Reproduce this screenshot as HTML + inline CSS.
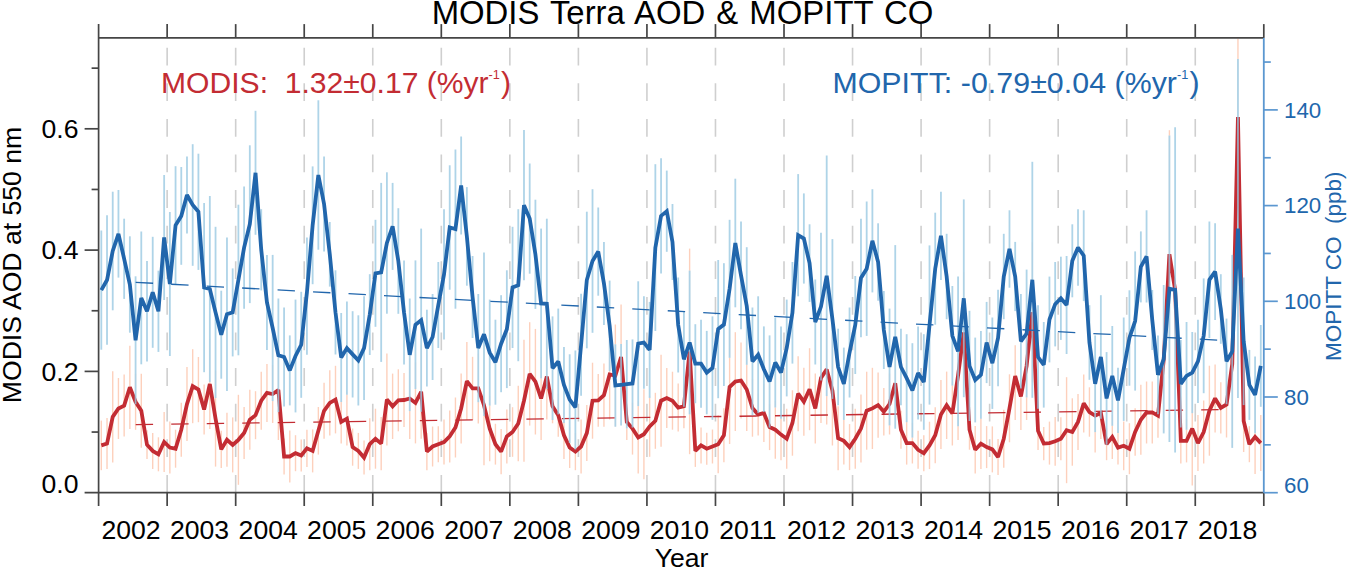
<!DOCTYPE html>
<html><head><meta charset="utf-8"><title>MODIS Terra AOD &amp; MOPITT CO</title>
<style>html,body{margin:0;padding:0;background:#fff;overflow:hidden}body{width:1347px;height:569px;position:relative;font-family:"Liberation Sans",sans-serif}</style></head>
<body>
<svg width="1347" height="569" viewBox="0 0 1347 569" style="position:absolute;left:0;top:0">
<rect width="1347" height="569" fill="#fff"/>
<line x1="167.14" y1="492.7" x2="167.14" y2="45.9" stroke="#cfcfcf" stroke-width="1.6" stroke-dasharray="17.8 17.8"/>
<line x1="235.68" y1="492.7" x2="235.68" y2="45.9" stroke="#cfcfcf" stroke-width="1.6" stroke-dasharray="17.8 17.8"/>
<line x1="304.22" y1="492.7" x2="304.22" y2="45.9" stroke="#cfcfcf" stroke-width="1.6" stroke-dasharray="17.8 17.8"/>
<line x1="372.76" y1="492.7" x2="372.76" y2="45.9" stroke="#cfcfcf" stroke-width="1.6" stroke-dasharray="17.8 17.8"/>
<line x1="441.31" y1="492.7" x2="441.31" y2="45.9" stroke="#cfcfcf" stroke-width="1.6" stroke-dasharray="17.8 17.8"/>
<line x1="509.85" y1="492.7" x2="509.85" y2="45.9" stroke="#cfcfcf" stroke-width="1.6" stroke-dasharray="17.8 17.8"/>
<line x1="578.39" y1="492.7" x2="578.39" y2="45.9" stroke="#cfcfcf" stroke-width="1.6" stroke-dasharray="17.8 17.8"/>
<line x1="646.93" y1="492.7" x2="646.93" y2="45.9" stroke="#cfcfcf" stroke-width="1.6" stroke-dasharray="17.8 17.8"/>
<line x1="715.47" y1="492.7" x2="715.47" y2="45.9" stroke="#cfcfcf" stroke-width="1.6" stroke-dasharray="17.8 17.8"/>
<line x1="784.01" y1="492.7" x2="784.01" y2="45.9" stroke="#cfcfcf" stroke-width="1.6" stroke-dasharray="17.8 17.8"/>
<line x1="852.55" y1="492.7" x2="852.55" y2="45.9" stroke="#cfcfcf" stroke-width="1.6" stroke-dasharray="17.8 17.8"/>
<line x1="921.09" y1="492.7" x2="921.09" y2="45.9" stroke="#cfcfcf" stroke-width="1.6" stroke-dasharray="17.8 17.8"/>
<line x1="989.64" y1="492.7" x2="989.64" y2="45.9" stroke="#cfcfcf" stroke-width="1.6" stroke-dasharray="17.8 17.8"/>
<line x1="1058.18" y1="492.7" x2="1058.18" y2="45.9" stroke="#cfcfcf" stroke-width="1.6" stroke-dasharray="17.8 17.8"/>
<line x1="1126.72" y1="492.7" x2="1126.72" y2="45.9" stroke="#cfcfcf" stroke-width="1.6" stroke-dasharray="17.8 17.8"/>
<line x1="1195.26" y1="492.7" x2="1195.26" y2="45.9" stroke="#cfcfcf" stroke-width="1.6" stroke-dasharray="17.8 17.8"/>
<g stroke="#fdd0bc" stroke-width="1.4" opacity="1">
<line x1="101.31" y1="420.6" x2="101.31" y2="470.2"/>
<line x1="107.02" y1="418.1" x2="107.02" y2="469.1"/>
<line x1="112.73" y1="371.2" x2="112.73" y2="462.4"/>
<line x1="118.44" y1="378.0" x2="118.44" y2="439.0"/>
<line x1="124.15" y1="374.6" x2="124.15" y2="436.6"/>
<line x1="129.86" y1="345.7" x2="129.86" y2="428.9"/>
<line x1="135.58" y1="373.8" x2="135.58" y2="429.8"/>
<line x1="141.29" y1="373.8" x2="141.29" y2="447.8"/>
<line x1="147.00" y1="430.3" x2="147.00" y2="459.1"/>
<line x1="152.71" y1="432.9" x2="152.71" y2="468.9"/>
<line x1="158.42" y1="437.3" x2="158.42" y2="471.3"/>
<line x1="164.14" y1="412.0" x2="164.14" y2="472.0"/>
<line x1="169.85" y1="421.6" x2="169.85" y2="473.6"/>
<line x1="175.56" y1="429.7" x2="175.56" y2="467.7"/>
<line x1="181.27" y1="402.7" x2="181.27" y2="456.7"/>
<line x1="186.98" y1="367.1" x2="186.98" y2="441.1"/>
<line x1="192.69" y1="349.2" x2="192.69" y2="423.2"/>
<line x1="198.41" y1="357.0" x2="198.41" y2="422.2"/>
<line x1="204.12" y1="384.6" x2="204.12" y2="434.6"/>
<line x1="209.83" y1="339.0" x2="209.83" y2="429.0"/>
<line x1="215.54" y1="370.6" x2="215.54" y2="466.6"/>
<line x1="221.25" y1="430.8" x2="221.25" y2="468.0"/>
<line x1="226.96" y1="412.8" x2="226.96" y2="466.8"/>
<line x1="232.68" y1="417.4" x2="232.68" y2="472.4"/>
<line x1="238.39" y1="394.8" x2="238.39" y2="484.8"/>
<line x1="244.10" y1="407.1" x2="244.10" y2="459.1"/>
<line x1="249.81" y1="389.7" x2="249.81" y2="449.7"/>
<line x1="255.52" y1="391.2" x2="255.52" y2="439.2"/>
<line x1="261.24" y1="371.7" x2="261.24" y2="429.7"/>
<line x1="266.95" y1="363.9" x2="266.95" y2="421.9"/>
<line x1="272.66" y1="365.0" x2="272.66" y2="423.0"/>
<line x1="278.37" y1="340.0" x2="278.37" y2="440.0"/>
<line x1="284.08" y1="438.5" x2="284.08" y2="474.5"/>
<line x1="289.79" y1="430.5" x2="289.79" y2="482.5"/>
<line x1="295.51" y1="435.2" x2="295.51" y2="471.2"/>
<line x1="301.22" y1="439.4" x2="301.22" y2="471.4"/>
<line x1="306.93" y1="429.7" x2="306.93" y2="466.9"/>
<line x1="312.64" y1="429.4" x2="312.64" y2="472.4"/>
<line x1="318.35" y1="407.0" x2="318.35" y2="454.6"/>
<line x1="324.06" y1="382.8" x2="324.06" y2="438.8"/>
<line x1="329.78" y1="370.2" x2="329.78" y2="435.6"/>
<line x1="335.49" y1="365.8" x2="335.49" y2="433.4"/>
<line x1="341.20" y1="400.4" x2="341.20" y2="443.4"/>
<line x1="346.91" y1="391.6" x2="346.91" y2="445.6"/>
<line x1="352.62" y1="428.5" x2="352.62" y2="465.7"/>
<line x1="358.34" y1="432.9" x2="358.34" y2="468.9"/>
<line x1="364.05" y1="440.6" x2="364.05" y2="474.6"/>
<line x1="369.76" y1="418.2" x2="369.76" y2="470.2"/>
<line x1="375.47" y1="408.7" x2="375.47" y2="468.7"/>
<line x1="381.18" y1="417.0" x2="381.18" y2="470.2"/>
<line x1="386.89" y1="353.6" x2="386.89" y2="445.6"/>
<line x1="392.61" y1="373.6" x2="392.61" y2="439.0"/>
<line x1="398.32" y1="369.3" x2="398.32" y2="431.3"/>
<line x1="404.03" y1="373.0" x2="404.03" y2="427.0"/>
<line x1="409.74" y1="358.0" x2="409.74" y2="439.0"/>
<line x1="415.45" y1="362.4" x2="415.45" y2="443.4"/>
<line x1="421.16" y1="344.8" x2="421.16" y2="438.8"/>
<line x1="426.88" y1="433.0" x2="426.88" y2="470.2"/>
<line x1="432.59" y1="426.5" x2="432.59" y2="466.5"/>
<line x1="438.30" y1="426.2" x2="438.30" y2="462.2"/>
<line x1="444.01" y1="419.4" x2="444.01" y2="464.6"/>
<line x1="449.72" y1="410.4" x2="449.72" y2="462.4"/>
<line x1="455.44" y1="397.5" x2="455.44" y2="457.5"/>
<line x1="461.15" y1="373.5" x2="461.15" y2="443.5"/>
<line x1="466.86" y1="342.1" x2="466.86" y2="420.1"/>
<line x1="472.57" y1="356.8" x2="472.57" y2="420.0"/>
<line x1="478.28" y1="353.4" x2="478.28" y2="423.4"/>
<line x1="483.99" y1="345.2" x2="483.99" y2="465.2"/>
<line x1="489.71" y1="395.9" x2="489.71" y2="461.3"/>
<line x1="495.42" y1="423.8" x2="495.42" y2="464.6"/>
<line x1="501.13" y1="429.0" x2="501.13" y2="474.2"/>
<line x1="506.84" y1="409.4" x2="506.84" y2="463.4"/>
<line x1="512.55" y1="407.2" x2="512.55" y2="456.8"/>
<line x1="518.26" y1="385.7" x2="518.26" y2="461.3"/>
<line x1="523.98" y1="339.7" x2="523.98" y2="461.7"/>
<line x1="529.69" y1="322.2" x2="529.69" y2="425.6"/>
<line x1="535.40" y1="328.9" x2="535.40" y2="434.5"/>
<line x1="541.11" y1="356.9" x2="541.11" y2="440.1"/>
<line x1="546.82" y1="333.6" x2="546.82" y2="419.6"/>
<line x1="552.54" y1="389.3" x2="552.54" y2="423.3"/>
<line x1="558.25" y1="393.7" x2="558.25" y2="436.7"/>
<line x1="563.96" y1="411.6" x2="563.96" y2="459.0"/>
<line x1="569.67" y1="427.2" x2="569.67" y2="468.0"/>
<line x1="575.38" y1="433.0" x2="575.38" y2="470.2"/>
<line x1="581.09" y1="419.5" x2="581.09" y2="473.5"/>
<line x1="586.81" y1="405.1" x2="586.81" y2="461.1"/>
<line x1="592.52" y1="362.7" x2="592.52" y2="438.7"/>
<line x1="598.23" y1="373.9" x2="598.23" y2="426.7"/>
<line x1="603.94" y1="363.5" x2="603.94" y2="426.7"/>
<line x1="609.65" y1="329.5" x2="609.65" y2="419.5"/>
<line x1="615.36" y1="324.5" x2="615.36" y2="426.5"/>
<line x1="621.08" y1="304.6" x2="621.08" y2="409.4"/>
<line x1="626.79" y1="403.9" x2="626.79" y2="439.9"/>
<line x1="632.50" y1="402.6" x2="632.50" y2="454.6"/>
<line x1="638.21" y1="401.5" x2="638.21" y2="473.5"/>
<line x1="643.92" y1="389.2" x2="643.92" y2="479.2"/>
<line x1="649.64" y1="396.0" x2="649.64" y2="456.8"/>
<line x1="655.35" y1="392.8" x2="655.35" y2="448.8"/>
<line x1="661.06" y1="354.7" x2="661.06" y2="446.7"/>
<line x1="666.77" y1="368.0" x2="666.77" y2="428.0"/>
<line x1="672.48" y1="371.7" x2="672.48" y2="429.7"/>
<line x1="678.19" y1="383.6" x2="678.19" y2="431.6"/>
<line x1="683.91" y1="384.3" x2="683.91" y2="428.3"/>
<line x1="689.62" y1="248.6" x2="689.62" y2="454.2"/>
<line x1="695.33" y1="434.9" x2="695.33" y2="466.9"/>
<line x1="701.04" y1="427.4" x2="701.04" y2="463.4"/>
<line x1="706.75" y1="432.7" x2="706.75" y2="464.7"/>
<line x1="712.46" y1="429.5" x2="712.46" y2="463.5"/>
<line x1="718.18" y1="415.2" x2="718.18" y2="473.2"/>
<line x1="723.89" y1="408.3" x2="723.89" y2="462.3"/>
<line x1="729.60" y1="330.0" x2="729.60" y2="444.0"/>
<line x1="735.31" y1="332.2" x2="735.31" y2="431.0"/>
<line x1="741.02" y1="342.5" x2="741.02" y2="418.5"/>
<line x1="746.74" y1="347.9" x2="746.74" y2="431.1"/>
<line x1="752.45" y1="379.3" x2="752.45" y2="436.7"/>
<line x1="758.16" y1="393.5" x2="758.16" y2="435.5"/>
<line x1="763.87" y1="384.0" x2="763.87" y2="442.0"/>
<line x1="769.58" y1="404.1" x2="769.58" y2="450.1"/>
<line x1="775.29" y1="400.7" x2="775.29" y2="458.7"/>
<line x1="781.01" y1="409.0" x2="781.01" y2="460.2"/>
<line x1="786.72" y1="408.7" x2="786.72" y2="468.7"/>
<line x1="792.43" y1="390.3" x2="792.43" y2="455.7"/>
<line x1="798.14" y1="356.2" x2="798.14" y2="431.2"/>
<line x1="803.85" y1="367.7" x2="803.85" y2="435.7"/>
<line x1="809.56" y1="348.2" x2="809.56" y2="430.2"/>
<line x1="815.28" y1="373.4" x2="815.28" y2="443.4"/>
<line x1="820.99" y1="333.0" x2="820.99" y2="423.0"/>
<line x1="826.70" y1="314.4" x2="826.70" y2="424.4"/>
<line x1="832.41" y1="335.5" x2="832.41" y2="445.5"/>
<line x1="838.12" y1="406.2" x2="838.12" y2="470.2"/>
<line x1="843.84" y1="417.2" x2="843.84" y2="464.6"/>
<line x1="849.55" y1="424.1" x2="849.55" y2="470.1"/>
<line x1="855.26" y1="408.7" x2="855.26" y2="468.7"/>
<line x1="860.97" y1="394.6" x2="860.97" y2="462.6"/>
<line x1="866.68" y1="371.7" x2="866.68" y2="449.7"/>
<line x1="872.39" y1="367.8" x2="872.39" y2="449.0"/>
<line x1="878.11" y1="372.4" x2="878.11" y2="437.8"/>
<line x1="883.82" y1="388.0" x2="883.82" y2="435.6"/>
<line x1="889.53" y1="373.5" x2="889.53" y2="434.5"/>
<line x1="895.24" y1="339.9" x2="895.24" y2="426.7"/>
<line x1="900.95" y1="410.7" x2="900.95" y2="448.7"/>
<line x1="906.66" y1="421.6" x2="906.66" y2="464.6"/>
<line x1="912.38" y1="422.7" x2="912.38" y2="463.5"/>
<line x1="918.09" y1="430.8" x2="918.09" y2="468.8"/>
<line x1="923.80" y1="435.2" x2="923.80" y2="471.2"/>
<line x1="929.51" y1="421.7" x2="929.51" y2="469.1"/>
<line x1="935.22" y1="407.3" x2="935.22" y2="463.3"/>
<line x1="940.94" y1="380.0" x2="940.94" y2="449.0"/>
<line x1="946.65" y1="371.6" x2="946.65" y2="439.0"/>
<line x1="952.36" y1="381.5" x2="952.36" y2="445.5"/>
<line x1="958.07" y1="311.0" x2="958.07" y2="440.0"/>
<line x1="963.78" y1="272.4" x2="963.78" y2="392.4"/>
<line x1="969.49" y1="409.7" x2="969.49" y2="449.7"/>
<line x1="975.21" y1="426.0" x2="975.21" y2="473.6"/>
<line x1="980.92" y1="418.1" x2="980.92" y2="469.1"/>
<line x1="986.63" y1="426.1" x2="986.63" y2="468.1"/>
<line x1="992.34" y1="426.4" x2="992.34" y2="472.4"/>
<line x1="998.05" y1="439.0" x2="998.05" y2="475.0"/>
<line x1="1003.76" y1="409.7" x2="1003.76" y2="467.7"/>
<line x1="1009.48" y1="374.3" x2="1009.48" y2="442.3"/>
<line x1="1015.19" y1="345.3" x2="1015.19" y2="420.0"/>
<line x1="1020.90" y1="363.0" x2="1020.90" y2="430.0"/>
<line x1="1026.61" y1="312.0" x2="1026.61" y2="420.0"/>
<line x1="1032.32" y1="242.3" x2="1032.32" y2="382.3"/>
<line x1="1038.04" y1="411.5" x2="1038.04" y2="450.1"/>
<line x1="1043.75" y1="427.0" x2="1043.75" y2="460.2"/>
<line x1="1049.46" y1="421.6" x2="1049.46" y2="464.6"/>
<line x1="1055.17" y1="416.9" x2="1055.17" y2="465.7"/>
<line x1="1060.88" y1="417.2" x2="1060.88" y2="460.2"/>
<line x1="1066.59" y1="377.2" x2="1066.59" y2="483.2"/>
<line x1="1072.31" y1="398.3" x2="1072.31" y2="465.7"/>
<line x1="1078.02" y1="393.9" x2="1078.02" y2="449.9"/>
<line x1="1083.73" y1="374.4" x2="1083.73" y2="432.4"/>
<line x1="1089.44" y1="387.3" x2="1089.44" y2="436.7"/>
<line x1="1095.15" y1="378.5" x2="1095.15" y2="452.5"/>
<line x1="1100.86" y1="387.0" x2="1100.86" y2="439.0"/>
<line x1="1106.58" y1="428.2" x2="1106.58" y2="460.2"/>
<line x1="1112.29" y1="414.9" x2="1112.29" y2="458.9"/>
<line x1="1118.00" y1="430.6" x2="1118.00" y2="464.6"/>
<line x1="1123.71" y1="421.4" x2="1123.71" y2="470.2"/>
<line x1="1129.42" y1="423.2" x2="1129.42" y2="474.2"/>
<line x1="1135.14" y1="408.3" x2="1135.14" y2="455.7"/>
<line x1="1140.85" y1="384.7" x2="1140.85" y2="454.7"/>
<line x1="1146.56" y1="381.5" x2="1146.56" y2="443.5"/>
<line x1="1152.27" y1="381.4" x2="1152.27" y2="443.4"/>
<line x1="1157.98" y1="393.7" x2="1157.98" y2="437.7"/>
<line x1="1163.69" y1="288.0" x2="1163.69" y2="432.0"/>
<line x1="1169.41" y1="130.2" x2="1169.41" y2="378.2"/>
<line x1="1175.12" y1="190.0" x2="1175.12" y2="390.0"/>
<line x1="1180.83" y1="418.3" x2="1180.83" y2="463.5"/>
<line x1="1186.54" y1="419.4" x2="1186.54" y2="462.4"/>
<line x1="1192.25" y1="371.6" x2="1192.25" y2="485.6"/>
<line x1="1197.96" y1="415.1" x2="1197.96" y2="471.1"/>
<line x1="1203.68" y1="400.5" x2="1203.68" y2="463.5"/>
<line x1="1209.39" y1="365.7" x2="1209.39" y2="455.7"/>
<line x1="1215.10" y1="364.4" x2="1215.10" y2="432.4"/>
<line x1="1220.81" y1="382.2" x2="1220.81" y2="433.4"/>
<line x1="1226.52" y1="371.5" x2="1226.52" y2="437.5"/>
<line x1="1232.24" y1="281.0" x2="1232.24" y2="447.0"/>
<line x1="1237.95" y1="38.7" x2="1237.95" y2="317.0"/>
<line x1="1243.66" y1="390.0" x2="1243.66" y2="452.0"/>
<line x1="1249.37" y1="426.2" x2="1249.37" y2="462.2"/>
<line x1="1255.08" y1="399.9" x2="1255.08" y2="473.9"/>
<line x1="1260.79" y1="415.1" x2="1260.79" y2="471.1"/>
</g>
<g stroke="#ffffff" stroke-width="2.4" opacity="0.8">
<line x1="101.31" y1="230.5" x2="101.31" y2="349.7"/>
<line x1="107.02" y1="215.2" x2="107.02" y2="344.8"/>
<line x1="112.73" y1="191.7" x2="112.73" y2="310.3"/>
<line x1="118.44" y1="190.0" x2="118.44" y2="277.6"/>
<line x1="124.15" y1="218.7" x2="124.15" y2="298.9"/>
<line x1="129.86" y1="236.3" x2="129.86" y2="332.7"/>
<line x1="135.58" y1="276.3" x2="135.58" y2="404.3"/>
<line x1="141.29" y1="231.5" x2="141.29" y2="364.3"/>
<line x1="147.00" y1="261.0" x2="147.00" y2="361.6"/>
<line x1="152.71" y1="236.8" x2="152.71" y2="347.8"/>
<line x1="158.42" y1="270.7" x2="158.42" y2="351.9"/>
<line x1="164.14" y1="175.0" x2="164.14" y2="300.0"/>
<line x1="169.85" y1="212.0" x2="169.85" y2="356.0"/>
<line x1="175.56" y1="166.2" x2="175.56" y2="284.4"/>
<line x1="181.27" y1="167.0" x2="181.27" y2="264.8"/>
<line x1="186.98" y1="156.5" x2="186.98" y2="233.5"/>
<line x1="192.69" y1="144.2" x2="192.69" y2="265.8"/>
<line x1="198.41" y1="153.7" x2="198.41" y2="269.9"/>
<line x1="204.12" y1="203.0" x2="204.12" y2="372.2"/>
<line x1="209.83" y1="196.0" x2="209.83" y2="382.0"/>
<line x1="215.54" y1="226.8" x2="215.54" y2="398.0"/>
<line x1="221.25" y1="290.7" x2="221.25" y2="378.7"/>
<line x1="226.96" y1="237.4" x2="226.96" y2="391.0"/>
<line x1="232.68" y1="268.4" x2="232.68" y2="356.4"/>
<line x1="238.39" y1="204.7" x2="238.39" y2="355.3"/>
<line x1="244.10" y1="186.4" x2="244.10" y2="308.8"/>
<line x1="249.81" y1="145.3" x2="249.81" y2="303.1"/>
<line x1="255.52" y1="110.8" x2="255.52" y2="234.8"/>
<line x1="261.24" y1="209.2" x2="261.24" y2="290.4"/>
<line x1="266.95" y1="254.9" x2="266.95" y2="349.9"/>
<line x1="272.66" y1="254.9" x2="272.66" y2="401.1"/>
<line x1="278.37" y1="298.5" x2="278.37" y2="412.1"/>
<line x1="284.08" y1="307.5" x2="284.08" y2="406.5"/>
<line x1="289.79" y1="335.4" x2="289.79" y2="405.4"/>
<line x1="295.51" y1="299.6" x2="295.51" y2="412.4"/>
<line x1="301.22" y1="291.8" x2="301.22" y2="397.8"/>
<line x1="306.93" y1="237.4" x2="306.93" y2="354.8"/>
<line x1="312.64" y1="166.4" x2="312.64" y2="284.2"/>
<line x1="318.35" y1="100.3" x2="318.35" y2="249.7"/>
<line x1="324.06" y1="156.5" x2="324.06" y2="251.5"/>
<line x1="329.78" y1="222.0" x2="329.78" y2="286.6"/>
<line x1="335.49" y1="270.3" x2="335.49" y2="354.5"/>
<line x1="341.20" y1="313.0" x2="341.20" y2="402.0"/>
<line x1="346.91" y1="301.4" x2="346.91" y2="394.8"/>
<line x1="352.62" y1="311.2" x2="352.62" y2="397.5"/>
<line x1="358.34" y1="315.3" x2="358.34" y2="405.5"/>
<line x1="364.05" y1="296.3" x2="364.05" y2="399.9"/>
<line x1="369.76" y1="274.2" x2="369.76" y2="355.0"/>
<line x1="375.47" y1="219.8" x2="375.47" y2="326.8"/>
<line x1="381.18" y1="182.9" x2="381.18" y2="361.9"/>
<line x1="386.89" y1="172.3" x2="386.89" y2="313.7"/>
<line x1="392.61" y1="182.9" x2="392.61" y2="269.9"/>
<line x1="398.32" y1="208.2" x2="398.32" y2="313.8"/>
<line x1="404.03" y1="260.4" x2="404.03" y2="364.4"/>
<line x1="409.74" y1="298.5" x2="409.74" y2="411.1"/>
<line x1="415.45" y1="260.4" x2="415.45" y2="389.0"/>
<line x1="421.16" y1="228.6" x2="421.16" y2="411.8"/>
<line x1="426.88" y1="309.7" x2="426.88" y2="386.5"/>
<line x1="432.59" y1="294.0" x2="432.59" y2="380.0"/>
<line x1="438.30" y1="262.0" x2="438.30" y2="348.0"/>
<line x1="444.01" y1="209.2" x2="444.01" y2="339.6"/>
<line x1="449.72" y1="165.3" x2="449.72" y2="289.7"/>
<line x1="455.44" y1="149.5" x2="455.44" y2="308.7"/>
<line x1="461.15" y1="136.5" x2="461.15" y2="234.5"/>
<line x1="466.86" y1="187.1" x2="466.86" y2="285.7"/>
<line x1="472.57" y1="256.0" x2="472.57" y2="338.0"/>
<line x1="478.28" y1="294.0" x2="478.28" y2="402.2"/>
<line x1="483.99" y1="252.5" x2="483.99" y2="416.1"/>
<line x1="489.71" y1="299.6" x2="489.71" y2="405.6"/>
<line x1="495.42" y1="319.7" x2="495.42" y2="404.7"/>
<line x1="501.13" y1="295.2" x2="501.13" y2="392.2"/>
<line x1="506.84" y1="270.3" x2="506.84" y2="388.1"/>
<line x1="512.55" y1="226.8" x2="512.55" y2="348.0"/>
<line x1="518.26" y1="209.2" x2="518.26" y2="361.2"/>
<line x1="523.98" y1="130.1" x2="523.98" y2="280.3"/>
<line x1="529.69" y1="163.5" x2="529.69" y2="273.7"/>
<line x1="535.40" y1="199.7" x2="535.40" y2="308.9"/>
<line x1="541.11" y1="228.6" x2="541.11" y2="378.4"/>
<line x1="546.82" y1="218.7" x2="546.82" y2="389.1"/>
<line x1="552.54" y1="316.4" x2="552.54" y2="420.0"/>
<line x1="558.25" y1="308.6" x2="558.25" y2="414.4"/>
<line x1="563.96" y1="347.0" x2="563.96" y2="423.0"/>
<line x1="569.67" y1="354.3" x2="569.67" y2="443.0"/>
<line x1="575.38" y1="350.5" x2="575.38" y2="449.5"/>
<line x1="581.09" y1="293.8" x2="581.09" y2="395.8"/>
<line x1="586.81" y1="211.7" x2="586.81" y2="348.3"/>
<line x1="592.52" y1="189.2" x2="592.52" y2="332.8"/>
<line x1="598.23" y1="207.5" x2="598.23" y2="295.7"/>
<line x1="603.94" y1="241.9" x2="603.94" y2="324.9"/>
<line x1="609.65" y1="280.6" x2="609.65" y2="371.0"/>
<line x1="615.36" y1="344.3" x2="615.36" y2="426.7"/>
<line x1="621.08" y1="344.0" x2="621.08" y2="425.6"/>
<line x1="626.79" y1="340.0" x2="626.79" y2="428.4"/>
<line x1="632.50" y1="339.4" x2="632.50" y2="427.6"/>
<line x1="638.21" y1="281.3" x2="638.21" y2="406.1"/>
<line x1="643.92" y1="296.3" x2="643.92" y2="388.7"/>
<line x1="649.64" y1="301.9" x2="649.64" y2="397.9"/>
<line x1="655.35" y1="164.2" x2="655.35" y2="331.0"/>
<line x1="661.06" y1="158.3" x2="661.06" y2="273.5"/>
<line x1="666.77" y1="170.6" x2="666.77" y2="251.8"/>
<line x1="672.48" y1="204.0" x2="672.48" y2="280.0"/>
<line x1="678.19" y1="277.5" x2="678.19" y2="372.5"/>
<line x1="683.91" y1="311.9" x2="683.91" y2="406.7"/>
<line x1="689.62" y1="270.6" x2="689.62" y2="414.4"/>
<line x1="695.33" y1="324.2" x2="695.33" y2="403.2"/>
<line x1="701.04" y1="319.7" x2="701.04" y2="407.7"/>
<line x1="706.75" y1="330.9" x2="706.75" y2="414.3"/>
<line x1="712.46" y1="316.4" x2="712.46" y2="419.8"/>
<line x1="718.18" y1="260.0" x2="718.18" y2="398.2"/>
<line x1="723.89" y1="263.2" x2="723.89" y2="386.0"/>
<line x1="729.60" y1="219.8" x2="729.60" y2="357.8"/>
<line x1="735.31" y1="178.7" x2="735.31" y2="307.3"/>
<line x1="741.02" y1="221.5" x2="741.02" y2="329.3"/>
<line x1="746.74" y1="247.2" x2="746.74" y2="364.8"/>
<line x1="752.45" y1="307.5" x2="752.45" y2="415.3"/>
<line x1="758.16" y1="296.3" x2="758.16" y2="413.1"/>
<line x1="763.87" y1="326.4" x2="763.87" y2="412.0"/>
<line x1="769.58" y1="335.4" x2="769.58" y2="427.6"/>
<line x1="775.29" y1="317.5" x2="775.29" y2="407.5"/>
<line x1="781.01" y1="326.4" x2="781.01" y2="418.8"/>
<line x1="786.72" y1="299.6" x2="786.72" y2="396.4"/>
<line x1="792.43" y1="262.0" x2="792.43" y2="363.6"/>
<line x1="798.14" y1="174.1" x2="798.14" y2="296.3"/>
<line x1="803.85" y1="193.4" x2="803.85" y2="283.6"/>
<line x1="809.56" y1="224.3" x2="809.56" y2="301.9"/>
<line x1="815.28" y1="279.5" x2="815.28" y2="364.5"/>
<line x1="820.99" y1="232.8" x2="820.99" y2="380.4"/>
<line x1="826.70" y1="155.5" x2="826.70" y2="396.1"/>
<line x1="832.41" y1="239.1" x2="832.41" y2="398.9"/>
<line x1="838.12" y1="328.7" x2="838.12" y2="405.3"/>
<line x1="843.84" y1="347.6" x2="843.84" y2="419.9"/>
<line x1="849.55" y1="307.5" x2="849.55" y2="397.5"/>
<line x1="855.26" y1="276.0" x2="855.26" y2="374.0"/>
<line x1="860.97" y1="218.7" x2="860.97" y2="337.3"/>
<line x1="866.68" y1="201.5" x2="866.68" y2="335.9"/>
<line x1="872.39" y1="189.2" x2="872.39" y2="292.4"/>
<line x1="878.11" y1="223.3" x2="878.11" y2="300.7"/>
<line x1="883.82" y1="291.0" x2="883.82" y2="369.0"/>
<line x1="889.53" y1="308.6" x2="889.53" y2="425.4"/>
<line x1="895.24" y1="245.1" x2="895.24" y2="428.7"/>
<line x1="900.95" y1="328.7" x2="900.95" y2="405.3"/>
<line x1="906.66" y1="334.2" x2="906.66" y2="422.2"/>
<line x1="912.38" y1="343.2" x2="912.38" y2="437.6"/>
<line x1="918.09" y1="326.4" x2="918.09" y2="419.6"/>
<line x1="923.80" y1="334.2" x2="923.80" y2="429.8"/>
<line x1="929.51" y1="245.4" x2="929.51" y2="404.6"/>
<line x1="935.22" y1="212.7" x2="935.22" y2="324.7"/>
<line x1="940.94" y1="191.7" x2="940.94" y2="279.9"/>
<line x1="946.65" y1="233.8" x2="946.65" y2="319.2"/>
<line x1="952.36" y1="286.0" x2="952.36" y2="385.6"/>
<line x1="958.07" y1="276.6" x2="958.07" y2="426.2"/>
<line x1="963.78" y1="199.4" x2="963.78" y2="397.2"/>
<line x1="969.49" y1="310.8" x2="969.49" y2="421.0"/>
<line x1="975.21" y1="337.6" x2="975.21" y2="422.4"/>
<line x1="980.92" y1="330.9" x2="980.92" y2="418.7"/>
<line x1="986.63" y1="301.9" x2="986.63" y2="383.1"/>
<line x1="992.34" y1="317.5" x2="992.34" y2="408.9"/>
<line x1="998.05" y1="289.8" x2="998.05" y2="386.2"/>
<line x1="1003.76" y1="233.8" x2="1003.76" y2="319.2"/>
<line x1="1009.48" y1="210.3" x2="1009.48" y2="287.7"/>
<line x1="1015.19" y1="241.9" x2="1015.19" y2="311.1"/>
<line x1="1020.90" y1="294.0" x2="1020.90" y2="388.6"/>
<line x1="1026.61" y1="269.6" x2="1026.61" y2="397.4"/>
<line x1="1032.32" y1="161.8" x2="1032.32" y2="397.8"/>
<line x1="1038.04" y1="305.2" x2="1038.04" y2="408.8"/>
<line x1="1043.75" y1="322.0" x2="1043.75" y2="407.6"/>
<line x1="1049.46" y1="276.6" x2="1049.46" y2="362.4"/>
<line x1="1055.17" y1="262.0" x2="1055.17" y2="346.4"/>
<line x1="1060.88" y1="256.7" x2="1060.88" y2="339.9"/>
<line x1="1066.59" y1="256.0" x2="1066.59" y2="354.0"/>
<line x1="1072.31" y1="224.3" x2="1072.31" y2="297.3"/>
<line x1="1078.02" y1="209.2" x2="1078.02" y2="285.8"/>
<line x1="1083.73" y1="210.3" x2="1083.73" y2="301.1"/>
<line x1="1089.44" y1="305.2" x2="1089.44" y2="379.8"/>
<line x1="1095.15" y1="335.4" x2="1095.15" y2="432.1"/>
<line x1="1100.86" y1="295.2" x2="1100.86" y2="418.8"/>
<line x1="1106.58" y1="352.1" x2="1106.58" y2="444.7"/>
<line x1="1112.29" y1="326.0" x2="1112.29" y2="425.8"/>
<line x1="1118.00" y1="367.7" x2="1118.00" y2="433.1"/>
<line x1="1123.71" y1="317.5" x2="1123.71" y2="420.9"/>
<line x1="1129.42" y1="290.3" x2="1129.42" y2="385.7"/>
<line x1="1135.14" y1="251.4" x2="1135.14" y2="390.6"/>
<line x1="1140.85" y1="231.4" x2="1140.85" y2="302.4"/>
<line x1="1146.56" y1="210.3" x2="1146.56" y2="302.5"/>
<line x1="1152.27" y1="290.0" x2="1152.27" y2="350.0"/>
<line x1="1157.98" y1="335.4" x2="1157.98" y2="414.2"/>
<line x1="1163.69" y1="285.0" x2="1163.69" y2="433.4"/>
<line x1="1169.41" y1="135.4" x2="1169.41" y2="442.1"/>
<line x1="1175.12" y1="127.3" x2="1175.12" y2="452.5"/>
<line x1="1180.83" y1="340.0" x2="1180.83" y2="427.5"/>
<line x1="1186.54" y1="322.0" x2="1186.54" y2="429.8"/>
<line x1="1192.25" y1="332.0" x2="1192.25" y2="413.2"/>
<line x1="1197.96" y1="319.7" x2="1197.96" y2="403.1"/>
<line x1="1203.68" y1="278.4" x2="1203.68" y2="393.2"/>
<line x1="1209.39" y1="221.5" x2="1209.39" y2="338.1"/>
<line x1="1215.10" y1="223.3" x2="1215.10" y2="319.9"/>
<line x1="1220.81" y1="274.2" x2="1220.81" y2="343.8"/>
<line x1="1226.52" y1="318.6" x2="1226.52" y2="404.2"/>
<line x1="1232.24" y1="254.9" x2="1232.24" y2="447.9"/>
<line x1="1237.95" y1="59.0" x2="1237.95" y2="398.0"/>
<line x1="1243.66" y1="277.5" x2="1243.66" y2="405.1"/>
<line x1="1249.37" y1="349.9" x2="1249.37" y2="419.9"/>
<line x1="1255.08" y1="356.6" x2="1255.08" y2="433.2"/>
<line x1="1260.79" y1="325.0" x2="1260.79" y2="406.8"/>
</g>
<line x1="135.7" y1="424.59" x2="1226.6" y2="409.48" stroke="#c32c33" stroke-width="1.3" stroke-dasharray="17.4 18.12" stroke-dashoffset="0"/>
<polyline points="101.31,445.4 107.02,443.6 112.73,416.8 118.44,408.5 124.15,405.6 129.86,387.3 135.58,401.8 141.29,410.8 147.00,444.7 152.71,450.9 158.42,454.3 164.14,442.0 169.85,447.6 175.56,448.7 181.27,429.7 186.98,404.1 192.69,386.2 198.41,389.6 204.12,409.6 209.83,384.0 215.54,418.6 221.25,449.4 226.96,439.8 232.68,444.9 238.39,439.8 244.10,433.1 249.81,419.7 255.52,415.2 261.24,400.7 266.95,392.9 272.66,394.0 278.37,390.0 284.08,456.5 289.79,456.5 295.51,453.2 301.22,455.4 306.93,448.3 312.64,450.9 318.35,430.8 324.06,410.8 329.78,402.9 335.49,399.6 341.20,421.9 346.91,418.6 352.62,447.1 358.34,450.9 364.05,457.6 369.76,444.2 375.47,438.7 381.18,443.6 386.89,399.6 392.61,406.3 398.32,400.3 404.03,400.0 409.74,398.5 415.45,402.9 421.16,391.8 426.88,451.6 432.59,446.5 438.30,444.2 444.01,442.0 449.72,436.4 455.44,427.5 461.15,408.5 466.86,381.1 472.57,388.4 478.28,388.4 483.99,405.2 489.71,428.6 495.42,444.2 501.13,451.6 506.84,436.4 512.55,432.0 518.26,423.5 523.98,400.7 529.69,373.9 535.40,381.7 541.11,398.5 546.82,376.6 552.54,406.3 558.25,415.2 563.96,435.3 569.67,447.6 575.38,451.6 581.09,446.5 586.81,433.1 592.52,400.7 598.23,400.3 603.94,395.1 609.65,374.5 615.36,375.5 621.08,357.0 626.79,421.9 632.50,428.6 638.21,437.5 643.92,434.2 649.64,426.4 655.35,420.8 661.06,400.7 666.77,398.0 672.48,400.7 678.19,407.6 683.91,406.3 689.62,351.4 695.33,450.9 701.04,445.4 706.75,448.7 712.46,446.5 718.18,444.2 723.89,435.3 729.60,387.0 735.31,381.6 741.02,380.5 746.74,389.5 752.45,408.0 758.16,414.5 763.87,413.0 769.58,427.1 775.29,429.7 781.01,434.6 786.72,438.7 792.43,423.0 798.14,393.7 803.85,401.7 809.56,389.2 815.28,408.4 820.99,378.0 826.70,369.4 832.41,390.5 838.12,438.2 843.84,440.9 849.55,447.1 855.26,438.7 860.97,428.6 866.68,410.7 872.39,408.4 878.11,405.1 883.82,411.8 889.53,404.0 895.24,383.3 900.95,429.7 906.66,443.1 912.38,443.1 918.09,449.8 923.80,453.2 929.51,445.4 935.22,435.3 940.94,414.5 946.65,405.3 952.36,413.5 958.07,375.5 963.78,332.4 969.49,429.7 975.21,449.8 980.92,443.6 986.63,447.1 992.34,449.4 998.05,457.0 1003.76,438.7 1009.48,408.3 1015.19,376.0 1020.90,396.5 1026.61,366.0 1032.32,312.3 1038.04,430.8 1043.75,443.6 1049.46,443.1 1055.17,441.3 1060.88,438.7 1066.59,430.2 1072.31,432.0 1078.02,421.9 1083.73,403.4 1089.44,412.0 1095.15,415.5 1100.86,413.0 1106.58,444.2 1112.29,436.9 1118.00,447.6 1123.71,445.8 1129.42,448.7 1135.14,432.0 1140.85,419.7 1146.56,412.5 1152.27,412.4 1157.98,415.7 1163.69,360.0 1169.41,254.2 1175.12,290.0 1180.83,440.9 1186.54,440.9 1192.25,428.6 1197.96,443.1 1203.68,432.0 1209.39,410.7 1215.10,398.4 1220.81,407.8 1226.52,404.5 1232.24,364.0 1237.95,117.0 1243.66,421.0 1249.37,444.2 1255.08,436.9 1260.79,443.1" fill="none" stroke="#c32c33" stroke-width="3.8" stroke-linejoin="miter" stroke-miterlimit="2" stroke-linecap="butt"/>
<g stroke="#98c8e2" stroke-width="1.8" opacity="0.78">
<line x1="101.31" y1="230.5" x2="101.31" y2="349.7"/>
<line x1="107.02" y1="215.2" x2="107.02" y2="344.8"/>
<line x1="112.73" y1="191.7" x2="112.73" y2="310.3"/>
<line x1="118.44" y1="190.0" x2="118.44" y2="277.6"/>
<line x1="124.15" y1="218.7" x2="124.15" y2="298.9"/>
<line x1="129.86" y1="236.3" x2="129.86" y2="332.7"/>
<line x1="135.58" y1="276.3" x2="135.58" y2="404.3"/>
<line x1="141.29" y1="231.5" x2="141.29" y2="364.3"/>
<line x1="147.00" y1="261.0" x2="147.00" y2="361.6"/>
<line x1="152.71" y1="236.8" x2="152.71" y2="347.8"/>
<line x1="158.42" y1="270.7" x2="158.42" y2="351.9"/>
<line x1="164.14" y1="175.0" x2="164.14" y2="300.0"/>
<line x1="169.85" y1="212.0" x2="169.85" y2="356.0"/>
<line x1="175.56" y1="166.2" x2="175.56" y2="284.4"/>
<line x1="181.27" y1="167.0" x2="181.27" y2="264.8"/>
<line x1="186.98" y1="156.5" x2="186.98" y2="233.5"/>
<line x1="192.69" y1="144.2" x2="192.69" y2="265.8"/>
<line x1="198.41" y1="153.7" x2="198.41" y2="269.9"/>
<line x1="204.12" y1="203.0" x2="204.12" y2="372.2"/>
<line x1="209.83" y1="196.0" x2="209.83" y2="382.0"/>
<line x1="215.54" y1="226.8" x2="215.54" y2="398.0"/>
<line x1="221.25" y1="290.7" x2="221.25" y2="378.7"/>
<line x1="226.96" y1="237.4" x2="226.96" y2="391.0"/>
<line x1="232.68" y1="268.4" x2="232.68" y2="356.4"/>
<line x1="238.39" y1="204.7" x2="238.39" y2="355.3"/>
<line x1="244.10" y1="186.4" x2="244.10" y2="308.8"/>
<line x1="249.81" y1="145.3" x2="249.81" y2="303.1"/>
<line x1="255.52" y1="110.8" x2="255.52" y2="234.8"/>
<line x1="261.24" y1="209.2" x2="261.24" y2="290.4"/>
<line x1="266.95" y1="254.9" x2="266.95" y2="349.9"/>
<line x1="272.66" y1="254.9" x2="272.66" y2="401.1"/>
<line x1="278.37" y1="298.5" x2="278.37" y2="412.1"/>
<line x1="284.08" y1="307.5" x2="284.08" y2="406.5"/>
<line x1="289.79" y1="335.4" x2="289.79" y2="405.4"/>
<line x1="295.51" y1="299.6" x2="295.51" y2="412.4"/>
<line x1="301.22" y1="291.8" x2="301.22" y2="397.8"/>
<line x1="306.93" y1="237.4" x2="306.93" y2="354.8"/>
<line x1="312.64" y1="166.4" x2="312.64" y2="284.2"/>
<line x1="318.35" y1="100.3" x2="318.35" y2="249.7"/>
<line x1="324.06" y1="156.5" x2="324.06" y2="251.5"/>
<line x1="329.78" y1="222.0" x2="329.78" y2="286.6"/>
<line x1="335.49" y1="270.3" x2="335.49" y2="354.5"/>
<line x1="341.20" y1="313.0" x2="341.20" y2="402.0"/>
<line x1="346.91" y1="301.4" x2="346.91" y2="394.8"/>
<line x1="352.62" y1="311.2" x2="352.62" y2="397.5"/>
<line x1="358.34" y1="315.3" x2="358.34" y2="405.5"/>
<line x1="364.05" y1="296.3" x2="364.05" y2="399.9"/>
<line x1="369.76" y1="274.2" x2="369.76" y2="355.0"/>
<line x1="375.47" y1="219.8" x2="375.47" y2="326.8"/>
<line x1="381.18" y1="182.9" x2="381.18" y2="361.9"/>
<line x1="386.89" y1="172.3" x2="386.89" y2="313.7"/>
<line x1="392.61" y1="182.9" x2="392.61" y2="269.9"/>
<line x1="398.32" y1="208.2" x2="398.32" y2="313.8"/>
<line x1="404.03" y1="260.4" x2="404.03" y2="364.4"/>
<line x1="409.74" y1="298.5" x2="409.74" y2="411.1"/>
<line x1="415.45" y1="260.4" x2="415.45" y2="389.0"/>
<line x1="421.16" y1="228.6" x2="421.16" y2="411.8"/>
<line x1="426.88" y1="309.7" x2="426.88" y2="386.5"/>
<line x1="432.59" y1="294.0" x2="432.59" y2="380.0"/>
<line x1="438.30" y1="262.0" x2="438.30" y2="348.0"/>
<line x1="444.01" y1="209.2" x2="444.01" y2="339.6"/>
<line x1="449.72" y1="165.3" x2="449.72" y2="289.7"/>
<line x1="455.44" y1="149.5" x2="455.44" y2="308.7"/>
<line x1="461.15" y1="136.5" x2="461.15" y2="234.5"/>
<line x1="466.86" y1="187.1" x2="466.86" y2="285.7"/>
<line x1="472.57" y1="256.0" x2="472.57" y2="338.0"/>
<line x1="478.28" y1="294.0" x2="478.28" y2="402.2"/>
<line x1="483.99" y1="252.5" x2="483.99" y2="416.1"/>
<line x1="489.71" y1="299.6" x2="489.71" y2="405.6"/>
<line x1="495.42" y1="319.7" x2="495.42" y2="404.7"/>
<line x1="501.13" y1="295.2" x2="501.13" y2="392.2"/>
<line x1="506.84" y1="270.3" x2="506.84" y2="388.1"/>
<line x1="512.55" y1="226.8" x2="512.55" y2="348.0"/>
<line x1="518.26" y1="209.2" x2="518.26" y2="361.2"/>
<line x1="523.98" y1="130.1" x2="523.98" y2="280.3"/>
<line x1="529.69" y1="163.5" x2="529.69" y2="273.7"/>
<line x1="535.40" y1="199.7" x2="535.40" y2="308.9"/>
<line x1="541.11" y1="228.6" x2="541.11" y2="378.4"/>
<line x1="546.82" y1="218.7" x2="546.82" y2="389.1"/>
<line x1="552.54" y1="316.4" x2="552.54" y2="420.0"/>
<line x1="558.25" y1="308.6" x2="558.25" y2="414.4"/>
<line x1="563.96" y1="347.0" x2="563.96" y2="423.0"/>
<line x1="569.67" y1="354.3" x2="569.67" y2="443.0"/>
<line x1="575.38" y1="350.5" x2="575.38" y2="449.5"/>
<line x1="581.09" y1="293.8" x2="581.09" y2="395.8"/>
<line x1="586.81" y1="211.7" x2="586.81" y2="348.3"/>
<line x1="592.52" y1="189.2" x2="592.52" y2="332.8"/>
<line x1="598.23" y1="207.5" x2="598.23" y2="295.7"/>
<line x1="603.94" y1="241.9" x2="603.94" y2="324.9"/>
<line x1="609.65" y1="280.6" x2="609.65" y2="371.0"/>
<line x1="615.36" y1="344.3" x2="615.36" y2="426.7"/>
<line x1="621.08" y1="344.0" x2="621.08" y2="425.6"/>
<line x1="626.79" y1="340.0" x2="626.79" y2="428.4"/>
<line x1="632.50" y1="339.4" x2="632.50" y2="427.6"/>
<line x1="638.21" y1="281.3" x2="638.21" y2="406.1"/>
<line x1="643.92" y1="296.3" x2="643.92" y2="388.7"/>
<line x1="649.64" y1="301.9" x2="649.64" y2="397.9"/>
<line x1="655.35" y1="164.2" x2="655.35" y2="331.0"/>
<line x1="661.06" y1="158.3" x2="661.06" y2="273.5"/>
<line x1="666.77" y1="170.6" x2="666.77" y2="251.8"/>
<line x1="672.48" y1="204.0" x2="672.48" y2="280.0"/>
<line x1="678.19" y1="277.5" x2="678.19" y2="372.5"/>
<line x1="683.91" y1="311.9" x2="683.91" y2="406.7"/>
<line x1="689.62" y1="270.6" x2="689.62" y2="414.4"/>
<line x1="695.33" y1="324.2" x2="695.33" y2="403.2"/>
<line x1="701.04" y1="319.7" x2="701.04" y2="407.7"/>
<line x1="706.75" y1="330.9" x2="706.75" y2="414.3"/>
<line x1="712.46" y1="316.4" x2="712.46" y2="419.8"/>
<line x1="718.18" y1="260.0" x2="718.18" y2="398.2"/>
<line x1="723.89" y1="263.2" x2="723.89" y2="386.0"/>
<line x1="729.60" y1="219.8" x2="729.60" y2="357.8"/>
<line x1="735.31" y1="178.7" x2="735.31" y2="307.3"/>
<line x1="741.02" y1="221.5" x2="741.02" y2="329.3"/>
<line x1="746.74" y1="247.2" x2="746.74" y2="364.8"/>
<line x1="752.45" y1="307.5" x2="752.45" y2="415.3"/>
<line x1="758.16" y1="296.3" x2="758.16" y2="413.1"/>
<line x1="763.87" y1="326.4" x2="763.87" y2="412.0"/>
<line x1="769.58" y1="335.4" x2="769.58" y2="427.6"/>
<line x1="775.29" y1="317.5" x2="775.29" y2="407.5"/>
<line x1="781.01" y1="326.4" x2="781.01" y2="418.8"/>
<line x1="786.72" y1="299.6" x2="786.72" y2="396.4"/>
<line x1="792.43" y1="262.0" x2="792.43" y2="363.6"/>
<line x1="798.14" y1="174.1" x2="798.14" y2="296.3"/>
<line x1="803.85" y1="193.4" x2="803.85" y2="283.6"/>
<line x1="809.56" y1="224.3" x2="809.56" y2="301.9"/>
<line x1="815.28" y1="279.5" x2="815.28" y2="364.5"/>
<line x1="820.99" y1="232.8" x2="820.99" y2="380.4"/>
<line x1="826.70" y1="155.5" x2="826.70" y2="396.1"/>
<line x1="832.41" y1="239.1" x2="832.41" y2="398.9"/>
<line x1="838.12" y1="328.7" x2="838.12" y2="405.3"/>
<line x1="843.84" y1="347.6" x2="843.84" y2="419.9"/>
<line x1="849.55" y1="307.5" x2="849.55" y2="397.5"/>
<line x1="855.26" y1="276.0" x2="855.26" y2="374.0"/>
<line x1="860.97" y1="218.7" x2="860.97" y2="337.3"/>
<line x1="866.68" y1="201.5" x2="866.68" y2="335.9"/>
<line x1="872.39" y1="189.2" x2="872.39" y2="292.4"/>
<line x1="878.11" y1="223.3" x2="878.11" y2="300.7"/>
<line x1="883.82" y1="291.0" x2="883.82" y2="369.0"/>
<line x1="889.53" y1="308.6" x2="889.53" y2="425.4"/>
<line x1="895.24" y1="245.1" x2="895.24" y2="428.7"/>
<line x1="900.95" y1="328.7" x2="900.95" y2="405.3"/>
<line x1="906.66" y1="334.2" x2="906.66" y2="422.2"/>
<line x1="912.38" y1="343.2" x2="912.38" y2="437.6"/>
<line x1="918.09" y1="326.4" x2="918.09" y2="419.6"/>
<line x1="923.80" y1="334.2" x2="923.80" y2="429.8"/>
<line x1="929.51" y1="245.4" x2="929.51" y2="404.6"/>
<line x1="935.22" y1="212.7" x2="935.22" y2="324.7"/>
<line x1="940.94" y1="191.7" x2="940.94" y2="279.9"/>
<line x1="946.65" y1="233.8" x2="946.65" y2="319.2"/>
<line x1="952.36" y1="286.0" x2="952.36" y2="385.6"/>
<line x1="958.07" y1="276.6" x2="958.07" y2="426.2"/>
<line x1="963.78" y1="199.4" x2="963.78" y2="397.2"/>
<line x1="969.49" y1="310.8" x2="969.49" y2="421.0"/>
<line x1="975.21" y1="337.6" x2="975.21" y2="422.4"/>
<line x1="980.92" y1="330.9" x2="980.92" y2="418.7"/>
<line x1="986.63" y1="301.9" x2="986.63" y2="383.1"/>
<line x1="992.34" y1="317.5" x2="992.34" y2="408.9"/>
<line x1="998.05" y1="289.8" x2="998.05" y2="386.2"/>
<line x1="1003.76" y1="233.8" x2="1003.76" y2="319.2"/>
<line x1="1009.48" y1="210.3" x2="1009.48" y2="287.7"/>
<line x1="1015.19" y1="241.9" x2="1015.19" y2="311.1"/>
<line x1="1020.90" y1="294.0" x2="1020.90" y2="388.6"/>
<line x1="1026.61" y1="269.6" x2="1026.61" y2="397.4"/>
<line x1="1032.32" y1="161.8" x2="1032.32" y2="397.8"/>
<line x1="1038.04" y1="305.2" x2="1038.04" y2="408.8"/>
<line x1="1043.75" y1="322.0" x2="1043.75" y2="407.6"/>
<line x1="1049.46" y1="276.6" x2="1049.46" y2="362.4"/>
<line x1="1055.17" y1="262.0" x2="1055.17" y2="346.4"/>
<line x1="1060.88" y1="256.7" x2="1060.88" y2="339.9"/>
<line x1="1066.59" y1="256.0" x2="1066.59" y2="354.0"/>
<line x1="1072.31" y1="224.3" x2="1072.31" y2="297.3"/>
<line x1="1078.02" y1="209.2" x2="1078.02" y2="285.8"/>
<line x1="1083.73" y1="210.3" x2="1083.73" y2="301.1"/>
<line x1="1089.44" y1="305.2" x2="1089.44" y2="379.8"/>
<line x1="1095.15" y1="335.4" x2="1095.15" y2="432.1"/>
<line x1="1100.86" y1="295.2" x2="1100.86" y2="418.8"/>
<line x1="1106.58" y1="352.1" x2="1106.58" y2="444.7"/>
<line x1="1112.29" y1="326.0" x2="1112.29" y2="425.8"/>
<line x1="1118.00" y1="367.7" x2="1118.00" y2="433.1"/>
<line x1="1123.71" y1="317.5" x2="1123.71" y2="420.9"/>
<line x1="1129.42" y1="290.3" x2="1129.42" y2="385.7"/>
<line x1="1135.14" y1="251.4" x2="1135.14" y2="390.6"/>
<line x1="1140.85" y1="231.4" x2="1140.85" y2="302.4"/>
<line x1="1146.56" y1="210.3" x2="1146.56" y2="302.5"/>
<line x1="1152.27" y1="290.0" x2="1152.27" y2="350.0"/>
<line x1="1157.98" y1="335.4" x2="1157.98" y2="414.2"/>
<line x1="1163.69" y1="285.0" x2="1163.69" y2="433.4"/>
<line x1="1169.41" y1="135.4" x2="1169.41" y2="442.1"/>
<line x1="1175.12" y1="127.3" x2="1175.12" y2="452.5"/>
<line x1="1180.83" y1="340.0" x2="1180.83" y2="427.5"/>
<line x1="1186.54" y1="322.0" x2="1186.54" y2="429.8"/>
<line x1="1192.25" y1="332.0" x2="1192.25" y2="413.2"/>
<line x1="1197.96" y1="319.7" x2="1197.96" y2="403.1"/>
<line x1="1203.68" y1="278.4" x2="1203.68" y2="393.2"/>
<line x1="1209.39" y1="221.5" x2="1209.39" y2="338.1"/>
<line x1="1215.10" y1="223.3" x2="1215.10" y2="319.9"/>
<line x1="1220.81" y1="274.2" x2="1220.81" y2="343.8"/>
<line x1="1226.52" y1="318.6" x2="1226.52" y2="404.2"/>
<line x1="1232.24" y1="254.9" x2="1232.24" y2="447.9"/>
<line x1="1237.95" y1="59.0" x2="1237.95" y2="398.0"/>
<line x1="1243.66" y1="277.5" x2="1243.66" y2="405.1"/>
<line x1="1249.37" y1="349.9" x2="1249.37" y2="419.9"/>
<line x1="1255.08" y1="356.6" x2="1255.08" y2="433.2"/>
<line x1="1260.79" y1="325.0" x2="1260.79" y2="406.8"/>
</g>
<line x1="135.7" y1="282.33" x2="1226.6" y2="340.65" stroke="#2166ac" stroke-width="1.3" stroke-dasharray="17.4 18.12" stroke-dashoffset="0"/>
<polyline points="101.31,290.1 107.02,280.0 112.73,251.0 118.44,233.8 124.15,258.8 129.86,284.5 135.58,340.3 141.29,297.9 147.00,311.3 152.71,292.3 158.42,311.3 164.14,237.5 169.85,284.0 175.56,225.3 181.27,215.9 186.98,195.0 192.69,205.0 198.41,211.8 204.12,287.6 209.83,289.0 215.54,312.4 221.25,334.7 226.96,314.2 232.68,312.4 238.39,280.0 244.10,247.6 249.81,224.2 255.52,172.8 261.24,249.8 266.95,302.4 272.66,328.0 278.37,355.3 284.08,357.0 289.79,370.4 295.51,356.0 301.22,344.8 306.93,292.3 312.64,225.3 318.35,175.0 324.06,204.0 329.78,254.3 335.49,312.4 341.20,357.5 346.91,348.1 352.62,354.4 358.34,360.4 364.05,348.1 369.76,314.6 375.47,273.3 381.18,272.4 386.89,243.0 392.61,226.4 398.32,261.0 404.03,312.4 409.74,354.8 415.45,324.7 421.16,320.2 426.88,348.1 432.59,337.0 438.30,305.0 444.01,274.4 449.72,227.5 455.44,229.1 461.15,185.5 466.86,236.4 472.57,297.0 478.28,348.1 483.99,334.3 489.71,352.6 495.42,362.2 501.13,343.7 506.84,329.2 512.55,287.4 518.26,285.2 523.98,205.2 529.69,218.6 535.40,254.3 541.11,303.5 546.82,303.9 552.54,368.2 558.25,361.5 563.96,385.0 569.67,399.6 575.38,407.4 581.09,344.8 586.81,280.0 592.52,261.0 598.23,251.6 603.94,283.4 609.65,325.8 615.36,385.5 621.08,384.8 626.79,384.2 632.50,383.5 638.21,343.7 643.92,342.5 649.64,349.9 655.35,247.6 661.06,215.9 666.77,211.2 672.48,242.0 678.19,325.0 683.91,359.3 689.62,342.5 695.33,363.7 701.04,363.7 706.75,372.6 712.46,368.1 718.18,329.1 723.89,324.6 729.60,288.8 735.31,243.0 741.02,275.4 746.74,306.0 752.45,361.4 758.16,354.7 763.87,369.2 769.58,381.5 775.29,362.5 781.01,372.6 786.72,348.0 792.43,312.8 798.14,235.2 803.85,238.5 809.56,263.1 815.28,322.0 820.99,306.6 826.70,275.8 832.41,319.0 838.12,367.0 843.84,383.8 849.55,352.5 855.26,325.0 860.97,278.0 866.68,268.7 872.39,240.8 878.11,262.0 883.82,330.0 889.53,367.0 895.24,336.9 900.95,367.0 906.66,378.2 912.38,390.4 918.09,373.0 923.80,382.0 929.51,325.0 935.22,268.7 940.94,235.8 946.65,276.5 952.36,335.8 958.07,351.4 963.78,298.3 969.49,365.9 975.21,380.0 980.92,374.8 986.63,342.5 992.34,363.2 998.05,338.0 1003.76,276.5 1009.48,249.0 1015.19,276.5 1020.90,341.3 1026.61,333.5 1032.32,279.8 1038.04,357.0 1043.75,364.8 1049.46,319.5 1055.17,304.2 1060.88,298.3 1066.59,305.0 1072.31,260.8 1078.02,247.5 1083.73,255.7 1089.44,342.5 1095.15,383.8 1100.86,357.0 1106.58,398.4 1112.29,375.9 1118.00,400.4 1123.71,369.2 1129.42,338.0 1135.14,321.0 1140.85,266.9 1146.56,256.4 1152.27,320.0 1157.98,374.8 1163.69,359.2 1169.41,288.8 1175.12,289.9 1180.83,383.8 1186.54,375.9 1192.25,372.6 1197.96,361.4 1203.68,335.8 1209.39,279.8 1215.10,271.6 1220.81,309.0 1226.52,361.4 1232.24,351.4 1237.95,228.5 1243.66,341.3 1249.37,384.9 1255.08,394.9 1260.79,365.9" fill="none" stroke="#2166ac" stroke-width="3.8" stroke-linejoin="miter" stroke-miterlimit="2" stroke-linecap="butt"/>
<line x1="98.6" y1="37.9" x2="1263.8" y2="37.9" stroke="#454545" stroke-width="1.7"/>
<line x1="84.6" y1="492.7" x2="1263.8" y2="492.7" stroke="#454545" stroke-width="1.7"/>
<line x1="98.6" y1="24.099999999999998" x2="98.6" y2="506.0" stroke="#454545" stroke-width="1.7"/>
<line x1="167.14" y1="24.099999999999998" x2="167.14" y2="37.9" stroke="#454545" stroke-width="1.7"/>
<line x1="167.14" y1="492.7" x2="167.14" y2="506.0" stroke="#454545" stroke-width="1.7"/>
<line x1="235.68" y1="24.099999999999998" x2="235.68" y2="37.9" stroke="#454545" stroke-width="1.7"/>
<line x1="235.68" y1="492.7" x2="235.68" y2="506.0" stroke="#454545" stroke-width="1.7"/>
<line x1="304.22" y1="24.099999999999998" x2="304.22" y2="37.9" stroke="#454545" stroke-width="1.7"/>
<line x1="304.22" y1="492.7" x2="304.22" y2="506.0" stroke="#454545" stroke-width="1.7"/>
<line x1="372.76" y1="24.099999999999998" x2="372.76" y2="37.9" stroke="#454545" stroke-width="1.7"/>
<line x1="372.76" y1="492.7" x2="372.76" y2="506.0" stroke="#454545" stroke-width="1.7"/>
<line x1="441.31" y1="24.099999999999998" x2="441.31" y2="37.9" stroke="#454545" stroke-width="1.7"/>
<line x1="441.31" y1="492.7" x2="441.31" y2="506.0" stroke="#454545" stroke-width="1.7"/>
<line x1="509.85" y1="24.099999999999998" x2="509.85" y2="37.9" stroke="#454545" stroke-width="1.7"/>
<line x1="509.85" y1="492.7" x2="509.85" y2="506.0" stroke="#454545" stroke-width="1.7"/>
<line x1="578.39" y1="24.099999999999998" x2="578.39" y2="37.9" stroke="#454545" stroke-width="1.7"/>
<line x1="578.39" y1="492.7" x2="578.39" y2="506.0" stroke="#454545" stroke-width="1.7"/>
<line x1="646.93" y1="24.099999999999998" x2="646.93" y2="37.9" stroke="#454545" stroke-width="1.7"/>
<line x1="646.93" y1="492.7" x2="646.93" y2="506.0" stroke="#454545" stroke-width="1.7"/>
<line x1="715.47" y1="24.099999999999998" x2="715.47" y2="37.9" stroke="#454545" stroke-width="1.7"/>
<line x1="715.47" y1="492.7" x2="715.47" y2="506.0" stroke="#454545" stroke-width="1.7"/>
<line x1="784.01" y1="24.099999999999998" x2="784.01" y2="37.9" stroke="#454545" stroke-width="1.7"/>
<line x1="784.01" y1="492.7" x2="784.01" y2="506.0" stroke="#454545" stroke-width="1.7"/>
<line x1="852.55" y1="24.099999999999998" x2="852.55" y2="37.9" stroke="#454545" stroke-width="1.7"/>
<line x1="852.55" y1="492.7" x2="852.55" y2="506.0" stroke="#454545" stroke-width="1.7"/>
<line x1="921.09" y1="24.099999999999998" x2="921.09" y2="37.9" stroke="#454545" stroke-width="1.7"/>
<line x1="921.09" y1="492.7" x2="921.09" y2="506.0" stroke="#454545" stroke-width="1.7"/>
<line x1="989.64" y1="24.099999999999998" x2="989.64" y2="37.9" stroke="#454545" stroke-width="1.7"/>
<line x1="989.64" y1="492.7" x2="989.64" y2="506.0" stroke="#454545" stroke-width="1.7"/>
<line x1="1058.18" y1="24.099999999999998" x2="1058.18" y2="37.9" stroke="#454545" stroke-width="1.7"/>
<line x1="1058.18" y1="492.7" x2="1058.18" y2="506.0" stroke="#454545" stroke-width="1.7"/>
<line x1="1126.72" y1="24.099999999999998" x2="1126.72" y2="37.9" stroke="#454545" stroke-width="1.7"/>
<line x1="1126.72" y1="492.7" x2="1126.72" y2="506.0" stroke="#454545" stroke-width="1.7"/>
<line x1="1195.26" y1="24.099999999999998" x2="1195.26" y2="37.9" stroke="#454545" stroke-width="1.7"/>
<line x1="1195.26" y1="492.7" x2="1195.26" y2="506.0" stroke="#454545" stroke-width="1.7"/>
<line x1="1263.80" y1="24.099999999999998" x2="1263.80" y2="37.9" stroke="#454545" stroke-width="1.7"/>
<line x1="1263.80" y1="492.7" x2="1263.80" y2="506.0" stroke="#454545" stroke-width="1.7"/>
<line x1="91.6" y1="432.05" x2="98.6" y2="432.05" stroke="#454545" stroke-width="1.7"/>
<line x1="84.6" y1="371.40" x2="98.6" y2="371.40" stroke="#454545" stroke-width="1.7"/>
<line x1="91.6" y1="310.75" x2="98.6" y2="310.75" stroke="#454545" stroke-width="1.7"/>
<line x1="84.6" y1="250.10" x2="98.6" y2="250.10" stroke="#454545" stroke-width="1.7"/>
<line x1="91.6" y1="189.45" x2="98.6" y2="189.45" stroke="#454545" stroke-width="1.7"/>
<line x1="84.6" y1="128.80" x2="98.6" y2="128.80" stroke="#454545" stroke-width="1.7"/>
<line x1="91.6" y1="68.15" x2="98.6" y2="68.15" stroke="#454545" stroke-width="1.7"/>
<line x1="1263.8" y1="37.9" x2="1263.8" y2="492.7" stroke="#5b97d0" stroke-width="1.8"/>
<line x1="1263.8" y1="492.70" x2="1277.8" y2="492.70" stroke="#5b97d0" stroke-width="1.7"/>
<line x1="1263.8" y1="444.85" x2="1270.8" y2="444.85" stroke="#5b97d0" stroke-width="1.7"/>
<line x1="1263.8" y1="397.00" x2="1277.8" y2="397.00" stroke="#5b97d0" stroke-width="1.7"/>
<line x1="1263.8" y1="349.15" x2="1270.8" y2="349.15" stroke="#5b97d0" stroke-width="1.7"/>
<line x1="1263.8" y1="301.30" x2="1277.8" y2="301.30" stroke="#5b97d0" stroke-width="1.7"/>
<line x1="1263.8" y1="253.45" x2="1270.8" y2="253.45" stroke="#5b97d0" stroke-width="1.7"/>
<line x1="1263.8" y1="205.60" x2="1277.8" y2="205.60" stroke="#5b97d0" stroke-width="1.7"/>
<line x1="1263.8" y1="157.75" x2="1270.8" y2="157.75" stroke="#5b97d0" stroke-width="1.7"/>
<line x1="1263.8" y1="109.90" x2="1277.8" y2="109.90" stroke="#5b97d0" stroke-width="1.7"/>
<line x1="1263.8" y1="62.05" x2="1270.8" y2="62.05" stroke="#5b97d0" stroke-width="1.7"/>
<text x="682.5" y="23.9" font-size="32.9" word-spacing="1.9" text-anchor="middle" fill="#000" font-family="Liberation Sans, sans-serif">MODIS Terra AOD &amp; MOPITT CO</text>
<text x="161.0" y="92.7" font-size="30.1" fill="#c32c33" font-family="Liberation Sans, sans-serif" xml:space="preserve">MODIS:  1.32±0.17 (%yr<tspan font-size="12.7" dy="-13.8">-1</tspan><tspan dy="13.8" dx="1.0">)</tspan></text>
<text x="832.4" y="92.7" font-size="30.3" letter-spacing="0.06" fill="#2166ac" font-family="Liberation Sans, sans-serif" xml:space="preserve">MOPITT: -0.79±0.04 (%yr<tspan font-size="12.7" dy="-13.8">-1</tspan><tspan dy="13.8" dx="1.0">)</tspan></text>
<text x="78.5" y="380.6" font-size="26.6" text-anchor="end" fill="#000" font-family="Liberation Sans, sans-serif">0.2</text>
<text x="78.5" y="259.3" font-size="26.6" text-anchor="end" fill="#000" font-family="Liberation Sans, sans-serif">0.4</text>
<text x="78.5" y="138.0" font-size="26.6" text-anchor="end" fill="#000" font-family="Liberation Sans, sans-serif">0.6</text>
<text x="78.5" y="493.3" font-size="26.6" text-anchor="end" fill="#000" font-family="Liberation Sans, sans-serif">0.0</text>
<text x="131.1" y="539.3" font-size="26.6" text-anchor="middle" fill="#000" font-family="Liberation Sans, sans-serif">2002</text>
<text x="199.6" y="539.3" font-size="26.6" text-anchor="middle" fill="#000" font-family="Liberation Sans, sans-serif">2003</text>
<text x="268.2" y="539.3" font-size="26.6" text-anchor="middle" fill="#000" font-family="Liberation Sans, sans-serif">2004</text>
<text x="336.7" y="539.3" font-size="26.6" text-anchor="middle" fill="#000" font-family="Liberation Sans, sans-serif">2005</text>
<text x="405.2" y="539.3" font-size="26.6" text-anchor="middle" fill="#000" font-family="Liberation Sans, sans-serif">2006</text>
<text x="473.8" y="539.3" font-size="26.6" text-anchor="middle" fill="#000" font-family="Liberation Sans, sans-serif">2007</text>
<text x="542.3" y="539.3" font-size="26.6" text-anchor="middle" fill="#000" font-family="Liberation Sans, sans-serif">2008</text>
<text x="610.9" y="539.3" font-size="26.6" text-anchor="middle" fill="#000" font-family="Liberation Sans, sans-serif">2009</text>
<text x="679.4" y="539.3" font-size="26.6" text-anchor="middle" fill="#000" font-family="Liberation Sans, sans-serif">2010</text>
<text x="747.9" y="539.3" font-size="26.6" text-anchor="middle" fill="#000" font-family="Liberation Sans, sans-serif">2011</text>
<text x="816.5" y="539.3" font-size="26.6" text-anchor="middle" fill="#000" font-family="Liberation Sans, sans-serif">2012</text>
<text x="885.0" y="539.3" font-size="26.6" text-anchor="middle" fill="#000" font-family="Liberation Sans, sans-serif">2013</text>
<text x="953.6" y="539.3" font-size="26.6" text-anchor="middle" fill="#000" font-family="Liberation Sans, sans-serif">2014</text>
<text x="1022.1" y="539.3" font-size="26.6" text-anchor="middle" fill="#000" font-family="Liberation Sans, sans-serif">2015</text>
<text x="1090.6" y="539.3" font-size="26.6" text-anchor="middle" fill="#000" font-family="Liberation Sans, sans-serif">2016</text>
<text x="1159.2" y="539.3" font-size="26.6" text-anchor="middle" fill="#000" font-family="Liberation Sans, sans-serif">2017</text>
<text x="1227.7" y="539.3" font-size="26.6" text-anchor="middle" fill="#000" font-family="Liberation Sans, sans-serif">2018</text>
<text x="681.6" y="567.3" font-size="26.6" text-anchor="middle" fill="#000" font-family="Liberation Sans, sans-serif">Year</text>
<text transform="translate(21.2,265) rotate(-90)" font-size="26.6" text-anchor="middle" fill="#000" font-family="Liberation Sans, sans-serif">MODIS AOD at 550 nm</text>
<text x="1284" y="404.6" font-size="22.3" fill="#2166ac" font-family="Liberation Sans, sans-serif">80</text>
<text x="1284" y="308.9" font-size="22.3" fill="#2166ac" font-family="Liberation Sans, sans-serif">100</text>
<text x="1284" y="213.2" font-size="22.3" fill="#2166ac" font-family="Liberation Sans, sans-serif">120</text>
<text x="1284" y="117.5" font-size="22.3" fill="#2166ac" font-family="Liberation Sans, sans-serif">140</text>
<text x="1284" y="493" font-size="22.3" fill="#2166ac" font-family="Liberation Sans, sans-serif">60</text>
<text transform="translate(1341.3,266.3) rotate(-90)" font-size="22.5" text-anchor="middle" fill="#2166ac" font-family="Liberation Sans, sans-serif" xml:space="preserve">MOPITT CO  (ppb)</text>
</svg>
</body></html>
